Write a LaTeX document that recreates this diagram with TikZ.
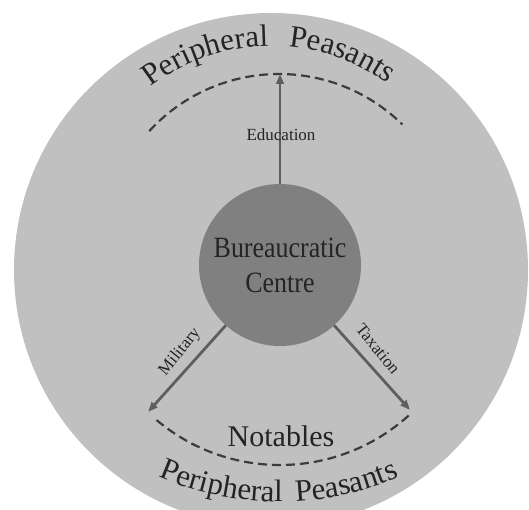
\documentclass[tikz,border=0pt]{standalone}
\usepackage{fontspec}
\setmainfont{Liberation Serif}
\newfontfamily\narrowserif[FakeStretch=0.88]{Liberation Serif}
\usetikzlibrary{arrows.meta,decorations.text}
\definecolor{outerfill}{HTML}{C0C0C0}
\definecolor{innerfill}{HTML}{808080}
\definecolor{arrowc}{HTML}{5E5E5E}
\definecolor{dashc}{HTML}{3C3C3C}
\definecolor{textc}{HTML}{242424}
\newcommand\arcfont{\fontsize{31}{36}\selectfont}
\begin{document}
\begin{tikzpicture}[x=1pt,y=1pt,
  flow/.style={draw=arrowc,line width=2.8pt,-{Triangle[length=10pt,width=7.5pt]}},
  rim/.style={draw=dashc,line width=2.2pt,dash pattern=on 9pt off 5pt},
  lbl/.style={text=textc,font=\fontsize{17}{20}\selectfont,inner sep=0pt},
  arctext/.style={decorate,decoration={text along path,text={|\arcfont|#1},
      text align=fit to path stretching spaces,text color=textc}}]
\useasboundingbox (0,0) rectangle (529,510);
\clip (0,0) rectangle (529,510);

% outer field of the periphery
\node[circle,fill=outerfill,minimum size=514pt,inner sep=0pt] (field) at (271,240) {};

% the centre
\node[circle,fill=innerfill,minimum size=162pt,inner sep=0pt,text=textc,
      align=center,font=\narrowserif\fontsize{29.5}{35}\selectfont] (centre) at (280,245)
      {Bureaucratic\\Centre};

% dashed boundaries
\draw[rim] (279,260) ++(137.5:176) arc[start angle=137.5,end angle=45.5,radius=176];
\draw[rim] (280,237) ++(-130:192) arc[start angle=-130,end angle=-47,radius=192];

% arrow end points
\coordinate (edu) at (280,436);
\coordinate (mil) at (148,98);
\coordinate (tax) at (410,100);

\draw[flow] (centre) -- (edu);
\draw[flow] (centre) -- (mil);
\draw[flow] (centre) -- (tax);

% arrow labels
\node[lbl] (edulbl) at (281,375) {Education};
\node[lbl,rotate=51] (millbl) at (180,158) {Military};
\node[lbl,rotate=-51] (taxlbl) at (378,161) {Taxation};

\node[text=textc,font=\fontsize{30}{36}\selectfont,anchor=base] (notables) at (281,63) {Notables};

% curved titles
\path[arctext={Peripheral Peasants}] (271,266) ++(127.6:198) arc[start angle=127.6,end angle=54,radius=198];
\path[arctext={Peripheral Peasants}] (280,308) ++(-113.8:300) arc[start angle=-113.8,end angle=-66.6,radius=300];
\end{tikzpicture}
\end{document}
